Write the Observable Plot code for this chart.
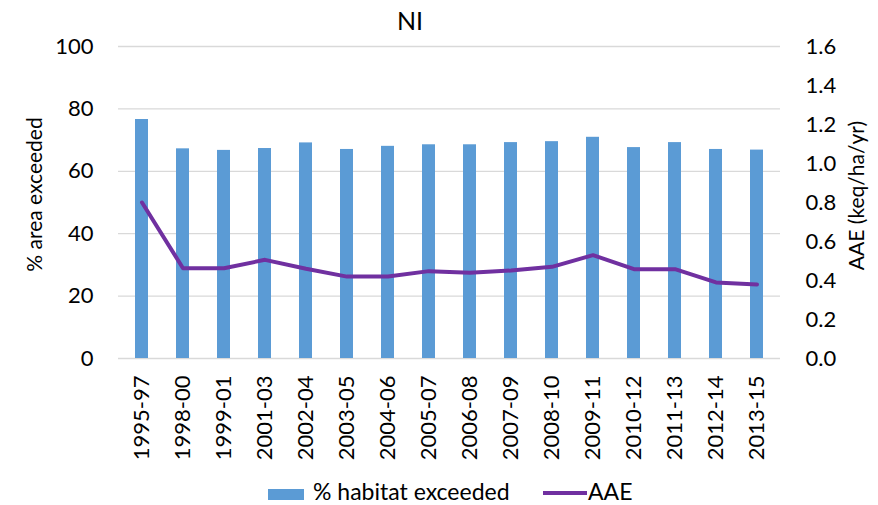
<!DOCTYPE html>
<html>
<head>
<meta charset="utf-8">
<script src="https://cdn.jsdelivr.net/npm/d3@7"></script>
<script src="https://cdn.jsdelivr.net/npm/@observablehq/plot@0.6"></script>
<style>
  html, body { margin: 0; padding: 0; background: #fff; }
  #wrap { position: relative; width: 878px; height: 505px; font-family: Lato, sans-serif; color: #000; }
  #wrap svg { position: absolute; left: 0; top: 0; }
  #title { position: absolute; left: 360px; width: 100px; top: 8px; text-align: center; font-size: 25px; line-height: 1; }
  .leg { position: absolute; font-size: 23px; line-height: 21px; white-space: nowrap; }
</style>
</head>
<body>
<div id="wrap">
  <div id="title">NI</div>
  <div class="leg" style="left:268px; top:489px; width:36px; height:11px; background:#5b9bd5;"></div>
  <div class="leg" style="left:313px; top:481px;">% habitat exceeded</div>
  <div class="leg" style="left:543px; top:491px; width:44px; height:4px; background:#7030a0;"></div>
  <div class="leg" style="left:588px; top:481px;">AAE</div>
</div>
<script>
const periods = ["1995-97","1998-00","1999-01","2001-03","2002-04","2003-05","2004-06","2005-07","2006-08","2007-09","2008-10","2009-11","2010-12","2011-13","2012-14","2013-15"];
const habitatExceeded = [76.6, 67.2, 66.7, 67.3, 69.1, 67.0, 68.0, 68.5, 68.5, 69.2, 69.5, 70.9, 67.6, 69.2, 67.0, 66.8];
const aaeValues = [0.80, 0.463, 0.463, 0.506, 0.46, 0.42, 0.42, 0.448, 0.44, 0.451, 0.47, 0.53, 0.458, 0.458, 0.39, 0.38];
const leftTicks = [0, 20, 40, 60, 80, 100];
const rightTicks = [0, 0.2, 0.4, 0.6, 0.8, 1.0, 1.2, 1.4, 1.6];
const leftLabel = "% area exceeded";
const rightLabel = "AAE (keq/ha/yr)";

const leftMax = 100, rightMax = 1.6;
const k = leftMax / rightMax;
const data = periods.map((p, i) => ({period: p, habitat: habitatExceeded[i], aae: aaeValues[i]}));

const chart = Plot.plot({
  width: 878,
  height: 505,
  marginLeft: 118,
  marginRight: 98,
  marginTop: 46,
  marginBottom: 147,
  style: {fontFamily: "Lato, sans-serif", fontSize: "22px", color: "#000", background: "transparent"},
  x: {type: "band", domain: periods, paddingInner: 0.69, paddingOuter: 0.345},
  y: {domain: [0, leftMax]},
  marks: [
    Plot.gridY(leftTicks, {stroke: "#d9d9d9", strokeOpacity: 1, strokeWidth: 1.3}),
    Plot.barY(data, {x: "period", y: "habitat", fill: "#5b9bd5"}),
    Plot.lineY(data, {x: "period", y: d => d.aae * k, stroke: "#7030a0", strokeWidth: 4, strokeLinejoin: "round", strokeLinecap: "round"}),
    Plot.axisY(leftTicks, {anchor: "left", tickSize: 0, tickPadding: 25, label: null}),
    Plot.axisY(rightTicks.map(t => t * k), {anchor: "right", tickSize: 0, tickPadding: 25, tickFormat: d => (d / k).toFixed(1), label: null}),
    Plot.axisX({tickSize: 0, tickRotate: -90, tickPadding: 17, label: null}),
    Plot.text([leftLabel], {frameAnchor: "left", textAnchor: "middle", rotate: -90, dx: -83, dy: -8, fontSize: 21, fill: "#000"}),
    Plot.text([rightLabel], {frameAnchor: "right", textAnchor: "middle", rotate: -90, dx: 77, dy: -7, fontSize: 21, fill: "#000"})
  ]
});
document.getElementById("wrap").prepend(chart);
</script>
</body>
</html>
